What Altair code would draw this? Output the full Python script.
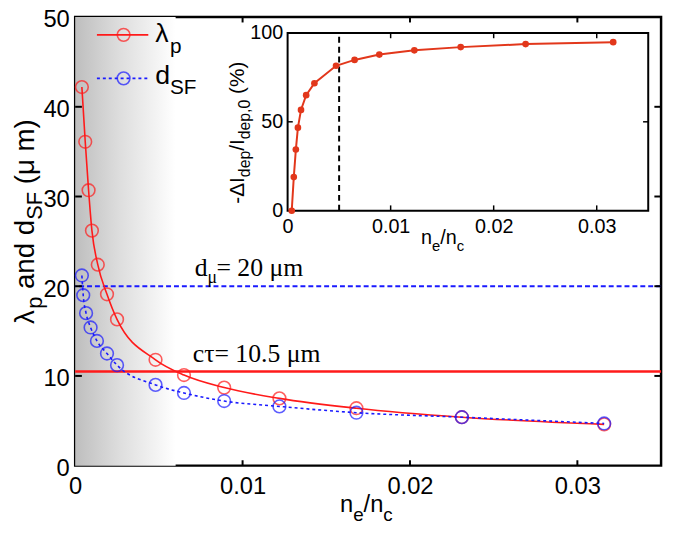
import altair as alt
import pandas as pd

# ---------------- data ----------------
ne_nc_lambda = [0.0004, 0.0006, 0.0008, 0.0010, 0.00135, 0.0019, 0.0025, 0.0048, 0.0065, 0.0089, 0.0122, 0.0168, 0.0231, 0.0316]
lambda_p = [42.2, 36.1, 30.7, 26.2, 22.4, 19.1, 16.3, 11.8, 10.1, 8.7, 7.5, 6.4, 5.4, 4.6]
ne_nc_dsf = [0.0004, 0.00048, 0.00065, 0.00092, 0.0013, 0.0019, 0.0025, 0.0048, 0.0065, 0.0089, 0.0122, 0.0168, 0.0231, 0.0316]
d_sf = [21.2, 19.0, 17.0, 15.4, 13.9, 12.5, 11.2, 9.0, 8.1, 7.2, 6.6, 5.9, 5.4, 4.7]
inset_ne_nc = [0.0004, 0.0006, 0.0008, 0.0010, 0.0013, 0.0018, 0.0026, 0.0047, 0.0065, 0.0089, 0.0123, 0.0168, 0.0231, 0.0316]
inset_depletion = [0, 18.9, 34.4, 46.7, 56.7, 65.0, 71.7, 81.5, 84.8, 87.8, 90.2, 92.0, 93.7, 94.8]
d_mu_value = [20]
c_tau_value = [10.5]
inset_marker_x = [0.005]
main_x_labels = [0, 0.01, 0.02, 0.03]
main_y_labels = [0, 10, 20, 30, 40, 50]
main_x_inner = [0.01, 0.02, 0.03]
main_y_inner = [10, 20, 30, 40]
inset_x_labels = [0, 0.01, 0.02, 0.03]
inset_y_labels = [0, 50, 100]
inset_x_inner = [0.01, 0.02, 0.03]
inset_y_inner = [50]

# ---------------- styling ----------------
W, H = 593, 454
TOP = 6
SANS = "Liberation Sans"
SERIF = "Liberation Serif"
RED = "#ff1a1a"
BLUE = "#1a1aff"
ORANGE = "#e2371b"
X_MAX = 0.035
SHADE_END = 0.006
MARK = 165

SANS_W = {"λ": 0.55, "p": 0.556, "a": 0.556, "n": 0.556, "d": 0.556, " ": 0.278, "S": 0.667,
          "F": 0.611, "(": 0.333, ")": 0.333, "μ": 0.577, "m": 0.833, "e": 0.556, "/": 0.278,
          "c": 0.5, "-": 0.333, "Δ": 0.668, "I": 0.278, ",": 0.278, "0": 0.556, "%": 0.889}
SERIF_W = {"d": 0.5, "μ": 0.5, "=": 0.564, " ": 0.25, "2": 0.5, "0": 0.5, "1": 0.5, ".": 0.25,
           "5": 0.5, "m": 0.778, "c": 0.444, "τ": 0.44}


def tw(s, size, table=SANS_W):
    return sum(table.get(ch, 0.556) for ch in s) * size


ONE = pd.DataFrame({"k": [0]})


def txt(t, x, y, size, angle=0, font=SANS, color="black"):
    return alt.Chart(ONE).mark_text(
        align="left", baseline="alphabetic", angle=angle, font=font, fontSize=size, color=color
    ).encode(x=alt.value(x), y=alt.value(y), text=alt.value(t))


def split_lead(t):
    body = t.lstrip(" ")
    return t[: len(t) - len(body)], body


def rich_h(pieces, x0, y0, font=SANS, table=SANS_W):
    out, x = [], x0
    for t, s, sh in pieces:
        lead, body = split_lead(t)
        x += tw(lead, s, table)
        out.append(txt(body.rstrip(" "), x, y0 + sh, s, font=font))
        x += tw(body, s, table)
    return out


def rich_v(pieces, bx, cy):
    total = sum(tw(t, s) for t, s, _ in pieces)
    y = cy + total / 2
    out = []
    for t, s, sh in pieces:
        lead, body = split_lead(t)
        y -= tw(lead, s)
        out.append(txt(body.rstrip(" "), bx + sh, y, s, angle=270))
        y -= tw(body, s)
    return out


# ---------------- main axes ----------------
xs = alt.Scale(domain=[0, X_MAX], nice=False, zero=False)
ys = alt.Scale(domain=[0, 50], nice=False)
x_axis = alt.Axis(values=main_x_labels, labelExpr="datum.value == 0 ? '0' : format(datum.value, '.2f')",
                  domain=False, ticks=False, grid=False, labelFontSize=24, labelFont=SANS,
                  labelColor="black", labelPadding=9, labelFlush=False, labelOverlap=False, title=None)
y_axis = alt.Axis(values=main_y_labels, domain=False, ticks=False, grid=False, labelFontSize=24,
                  labelFont=SANS, labelColor="black", labelPadding=6, labelFlush=False,
                  labelOffset=3, labelOverlap=False, title=None)


def MX(f="x"):
    return alt.X(f"{f}:Q", scale=xs, axis=x_axis)


def MY(f="y"):
    return alt.Y(f"{f}:Q", scale=ys, axis=y_axis)


shade = alt.Chart(pd.DataFrame({"x": [0], "xe": [SHADE_END], "y": [0], "ye": [50]})).mark_rect(
    color=alt.Gradient(gradient="linear", x1=0, x2=1, y1=0, y2=0,
                       stops=[alt.GradientStop(color="#bebebe", offset=0),
                              alt.GradientStop(color="#dedede", offset=0.45),
                              alt.GradientStop(color="#ffffff", offset=1)])
).encode(x=MX(), x2="xe", y=MY(), y2="ye")

dmu_rule = alt.Chart(pd.DataFrame({"y": d_mu_value})).mark_rule(
    color=BLUE, strokeWidth=2, strokeDash=[5, 3]).encode(y=MY())
ctau_rule = alt.Chart(pd.DataFrame({"y": c_tau_value})).mark_rule(
    color=RED, strokeWidth=2.5).encode(y=MY())

lam_df = pd.DataFrame({"x": ne_nc_lambda, "y": lambda_p})
dsf_df = pd.DataFrame({"x": ne_nc_dsf, "y": d_sf})
lam_line = alt.Chart(lam_df).mark_line(color=RED, strokeWidth=1.6, interpolate="monotone").encode(x=MX(), y=MY())
lam_pts = alt.Chart(lam_df).mark_point(color=RED, shape="circle", size=MARK, strokeWidth=1.6,
                                       filled=False).encode(x=MX(), y=MY())
dsf_line = alt.Chart(dsf_df).mark_line(color=BLUE, strokeWidth=1.6, strokeDash=[3, 3],
                                       interpolate="monotone").encode(x=MX(), y=MY())
dsf_pts = alt.Chart(dsf_df).mark_point(color=BLUE, shape="circle", size=MARK, strokeWidth=1.6,
                                       filled=False).encode(x=MX(), y=MY())

# inward ticks of the main box
tick_rows = ([{"x": v, "xe": v, "y": 0, "ye": 0.6} for v in main_x_inner]
             + [{"x": v, "xe": v, "y": 49.4, "ye": 50} for v in main_x_inner]
             + [{"x": 0, "xe": 0.0004, "y": v, "ye": v} for v in main_y_inner]
             + [{"x": X_MAX - 0.0004, "xe": X_MAX, "y": v, "ye": v} for v in main_y_inner])
main_ticks = alt.Chart(pd.DataFrame(tick_rows)).mark_rule(color="black", strokeWidth=2).encode(
    x=MX(), x2="xe", y=MY(), y2="ye")

# legend (upper left)
leg = [
    alt.Chart(ONE).mark_rule(color=RED, strokeWidth=1.6).encode(x=alt.value(22), x2=alt.value(74), y=alt.value(18)),
    alt.Chart(ONE).mark_point(color=RED, shape="circle", size=MARK, strokeWidth=1.6).encode(x=alt.value(49), y=alt.value(18)),
    alt.Chart(ONE).mark_rule(color=BLUE, strokeWidth=1.6, strokeDash=[3, 3]).encode(x=alt.value(22), x2=alt.value(74), y=alt.value(62)),
    alt.Chart(ONE).mark_point(color=BLUE, shape="circle", size=MARK, strokeWidth=1.6).encode(x=alt.value(49), y=alt.value(62)),
]
leg += rich_h([("λ", 27, 0), ("p", 21, 11)], 81, 25)
leg += rich_h([("d", 27, 0), ("SF", 21, 10)], 81, 68)

# annotations of the horizontal lines
ann = rich_h([("d", 26, 0), ("μ", 18, 7), ("= 20 μm", 26, 0)], 121, 262, font=SERIF, table=SERIF_W)
ann += rich_h([("cτ= 10.5 μm", 26, 0)], 119, 349, font=SERIF, table=SERIF_W)

# axis titles with subscripts
titles = rich_v([("λ", 28, 0), ("p", 22, 8), (" and d", 28, 0), ("SF", 22, 8), (" (μ m)", 28, 0)], -42, 207)
titles += rich_h([("n", 24, 0), ("e", 19, 9), ("/n", 24, 0), ("c", 19, 9)], 268, 501)

main_layer = alt.layer(shade, dmu_rule, ctau_rule, lam_line, lam_pts, dsf_line, dsf_pts, main_ticks,
                       *leg, *ann, *titles)

# ---------------- inset ----------------
ixs = alt.Scale(domain=[0, X_MAX], range=[215, 580], nice=False, zero=False)
iys = alt.Scale(domain=[0, 100], range=[196, 16], nice=False)
ix_axis = alt.Axis(orient="bottom", offset=-(H - 196), values=inset_x_labels,
                   labelExpr="datum.value == 0 ? '0' : format(datum.value, '.2f')",
                   domain=False, ticks=False, grid=False, labelFontSize=20, labelFont=SANS,
                   labelColor="black", labelPadding=6, labelFlush=False, labelOverlap=False, title=None)
iy_axis = alt.Axis(orient="left", offset=-215, values=inset_y_labels, domain=False, ticks=False,
                   grid=False, labelFontSize=20, labelFont=SANS, labelColor="black", labelPadding=5,
                   labelFlush=False, labelOverlap=False, title=None)


def IX(f="ix"):
    return alt.X(f"{f}:Q", scale=ixs, axis=ix_axis)


def IY(f="iy"):
    return alt.Y(f"{f}:Q", scale=iys, axis=iy_axis)


inset_frame = alt.Chart(pd.DataFrame({"ix": [0], "ixe": [X_MAX], "iy": [0], "iye": [100]})).mark_rect(
    fill="white", stroke="black", strokeWidth=2).encode(x=IX(), x2="ixe", y=IY(), y2="iye")
inset_rows = ([{"ix": v, "ixe": v, "iy": 0, "iye": 3} for v in inset_x_inner]
              + [{"ix": v, "ixe": v, "iy": 97, "iye": 100} for v in inset_x_inner]
              + [{"ix": 0, "ixe": 0.0005, "iy": v, "iye": v} for v in inset_y_inner]
              + [{"ix": X_MAX - 0.0005, "ixe": X_MAX, "iy": v, "iye": v} for v in inset_y_inner])
inset_ticks = alt.Chart(pd.DataFrame(inset_rows)).mark_rule(color="black", strokeWidth=1.5).encode(
    x=IX(), x2="ixe", y=IY(), y2="iye")
inset_vline = alt.Chart(pd.DataFrame({"ix": inset_marker_x, "iy": [0], "iye": [100]})).mark_rule(
    color="black", strokeWidth=2, strokeDash=[6, 4]).encode(x=IX(), y=IY(), y2="iye")
inset_df = pd.DataFrame({"ix": inset_ne_nc, "iy": inset_depletion})
inset_line = alt.Chart(inset_df).mark_line(color=ORANGE, strokeWidth=2).encode(x=IX(), y=IY())
inset_pts = alt.Chart(inset_df).mark_point(color=ORANGE, shape="circle", size=45, filled=True,
                                           opacity=1).encode(x=IX(), y=IY())

inset_titles = rich_h([("n", 20, 0), ("e", 15, 7), ("/n", 20, 0), ("c", 15, 7)], 350, 230)
inset_titles += rich_v([("-ΔI", 21, 0), ("dep", 16, 6), ("/I", 21, 0), ("dep,0", 16, 6), (" (%)", 21, 0)], 171, 117)

inset_layer = alt.layer(inset_frame, inset_ticks, inset_vline, inset_line, inset_pts, *inset_titles)

chart = alt.layer(main_layer, inset_layer).resolve_scale(x="independent", y="independent").properties(
    width=W, height=H,
    autosize=alt.AutoSizeParams(type="none"),
    padding={"left": 68, "top": TOP, "right": 6, "bottom": 66},
).configure_view(stroke="black", strokeWidth=2.5)

chart.save("out.html", embed_options={"renderer": "svg", "actions": False})
